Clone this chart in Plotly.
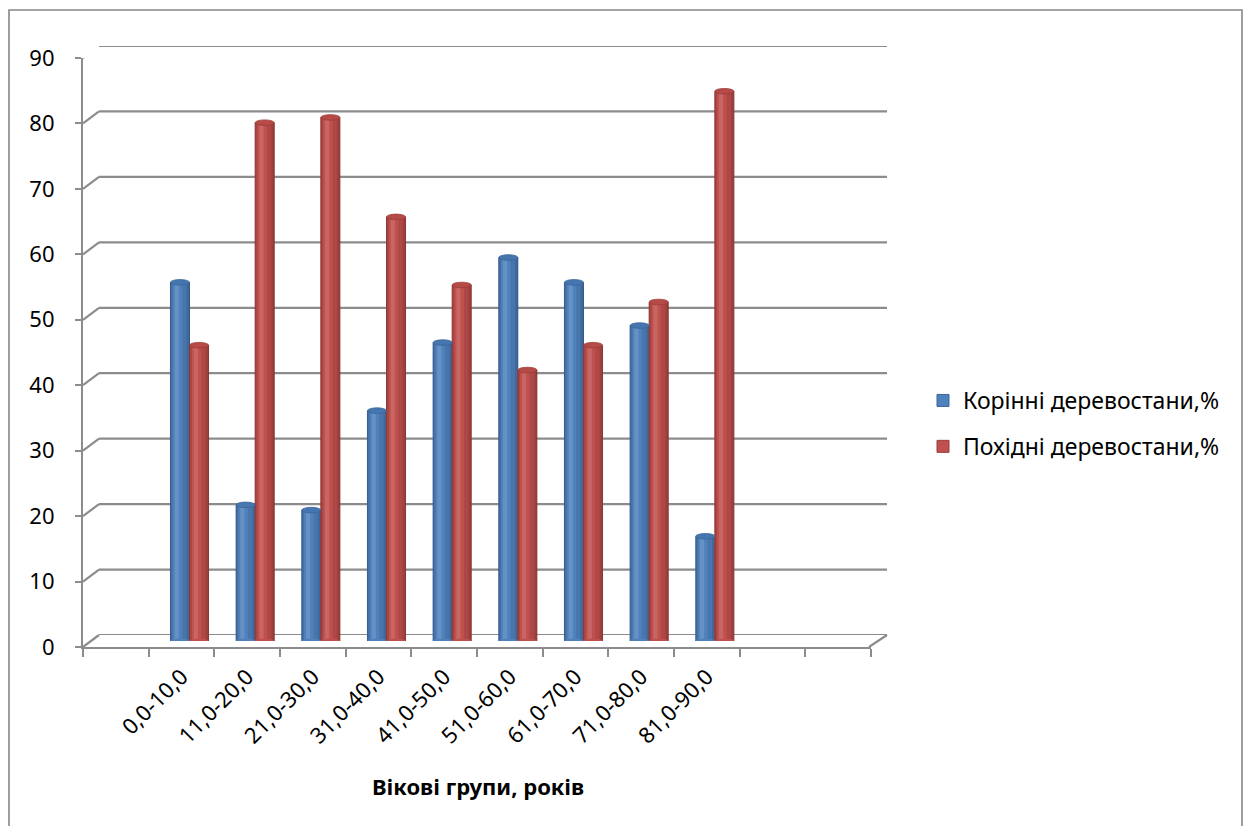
import plotly.graph_objects as go

# ---------------- data ----------------
categories = ["0,0-10,0", "11,0-20,0", "21,0-30,0", "31,0-40,0", "41,0-50,0",
              "51,0-60,0", "61,0-70,0", "71,0-80,0", "81,0-90,0"]
native = [54.8, 20.8, 20.0, 35.2, 45.6, 58.6, 54.8, 48.2, 16.0]      # Корінні деревостани,%
derived = [45.2, 79.2, 80.0, 64.8, 54.4, 41.4, 45.2, 51.8, 84.0]     # Похідні деревостани,%
series_names = ["Корінні деревостани,%", "Похідні деревостани,%"]
y_ticks = list(range(0, 91, 10))
n_slots = 12            # category slots on the axis (first and last ones empty)
first_slot = 1

# ---------------- style ----------------
OFF = 8                                # page body margin of the html page
W, H = 1251 - 2 * OFF, 834 - 2 * OFF   # keep the page free of scrollbars
L, T = 83 - OFF, 46 - OFF              # plot area (page coords) 83..887 x 46..647
PW, PH = 804, 601
R, B = W - L - PW, H - T - PH
DX, DY = 16, 12                        # depth offset (front -> back)
GRID = "#8C8C8C"
COLORS = ["#4F81BD", "#C0504D"]
EDGE = ["#3A6498", "#9A3C3A"]
CAP = ["#4676B0", "#B54A47"]
FONT = "Noto Sans"

positions = [first_slot + i for i in range(len(categories))]
xr = [-0.5, n_slots - 0.5]
bw = 0.29

def px_x(p):   # page pixel -> plot-area fraction
    return (p - OFF - L) / PW

def px_y(p):
    return (T + PH - (p - OFF)) / PH

fig = go.Figure()

for k, (vals, name) in enumerate(zip([native, derived], series_names)):
    off = -bw if k == 0 else 0.0
    fig.add_trace(go.Bar(
        x=positions, y=vals, name=name, offset=off, width=bw,
        marker=dict(color=COLORS[k], line=dict(color=EDGE[k], width=1)),
        legendgroup=name, xaxis="x", yaxis="y"))
    # cylinder shading strips
    for (fo, fw, col) in [(0.0, 0.12, "rgba(0,0,0,0.13)"),
                          (0.22, 0.22, "rgba(255,255,255,0.13)"),
                          (0.62, 0.38, "rgba(0,0,0,0.09)"),
                          (0.85, 0.15, "rgba(0,0,0,0.10)")]:
        fig.add_trace(go.Bar(
            x=positions, y=vals, offset=off + fo * bw, width=fw * bw,
            marker=dict(color=col, line=dict(width=0)), showlegend=False,
            hoverinfo="skip", legendgroup=name, xaxis="x", yaxis="y"))

# dummy traces to create front and back subplots
fig.add_trace(go.Scatter(x=[None], y=[None], xaxis="x2", yaxis="y2",
                         showlegend=False, hoverinfo="skip"))
fig.add_trace(go.Scatter(x=[None], y=[None], xaxis="x3", yaxis="y3",
                         showlegend=False, hoverinfo="skip"))

shapes = []
# back wall gridlines + left-wall connectors
for v in y_ticks:
    shapes.append(dict(type="line", xref="paper", yref="y3", x0=DX / PW, x1=1, y0=v, y1=v,
                       line=dict(color=GRID, width=2.2), layer="below"))
    shapes.append(dict(type="line", xref="paper", yref="y2", ysizemode="pixel", yanchor=v,
                       x0=0, x1=DX / PW, y0=0, y1=DY,
                       line=dict(color=GRID, width=2.2), layer="below"))
# right floor edge
shapes.append(dict(type="line", xref="paper", yref="y2", ysizemode="pixel", yanchor=0,
                   x0=(PW - DX - 2) / PW, x1=1, y0=0, y1=DY,
                   line=dict(color=GRID, width=2.2), layer="below"))
# cylinder caps
for k, vals in enumerate([native, derived]):
    off = -bw if k == 0 else 0.0
    for p, v in zip(positions, vals):
        shapes.append(dict(type="circle", xref="x", yref="y", ysizemode="pixel", yanchor=0,
                           x0=p + off, x1=p + off + bw, y0=-2.5, y1=2.5,
                           fillcolor=COLORS[k], line=dict(width=0), layer="above"))
        shapes.append(dict(type="circle", xref="x", yref="y", ysizemode="pixel", yanchor=v,
                           x0=p + off, x1=p + off + bw, y0=-2.8, y1=2.8,
                           fillcolor=CAP[k], line=dict(color=EDGE[k], width=0.8), layer="above"))
# chart border
shapes.append(dict(type="rect", xref="paper", yref="paper",
                   x0=px_x(9), x1=px_x(1242), y0=px_y(845), y1=px_y(10),
                   line=dict(color="#878787", width=1.6), fillcolor="rgba(0,0,0,0)", layer="below"))

fig.update_layout(
    width=W, height=H, autosize=False,
    margin=dict(l=L, r=R, t=T, b=B, pad=0),
    paper_bgcolor="white", plot_bgcolor="rgba(0,0,0,0)",
    barmode="overlay",
    font=dict(family=FONT, color="black"),
    showlegend=True,
    legend=dict(xref="container", yref="container", x=(923 - OFF) / W, y=1 - (379 - OFF) / H,
                xanchor="left", yanchor="top", font=dict(size=23, family=FONT),
                traceorder="grouped", tracegroupgap=13, bgcolor="rgba(0,0,0,0)"),
    # bars (mid depth)
    xaxis=dict(domain=[(DX / 2) / PW, (PW - DX / 2) / PW], range=xr, anchor="y", visible=False),
    yaxis=dict(domain=[(DY / 2) / PH, (PH - DY / 2) / PH], range=[0, 90], anchor="x", visible=False),
    # front axes
    xaxis2=dict(domain=[0, (PW - DX) / PW], range=xr, anchor="y2",
                showline=True, linecolor=GRID, linewidth=2.2, showgrid=False, zeroline=False,
                tickmode="array", tickvals=positions, ticktext=categories, ticks="",
                tickangle=-45, tickfont=dict(size=22, family=FONT, color="black"),
                ticklabelstandoff=6,
                minor=dict(tickmode="array", tickvals=[i - 0.5 for i in range(n_slots + 1)],
                           ticks="outside", ticklen=8, tickwidth=2, tickcolor=GRID, showgrid=False)),
    yaxis2=dict(domain=[0, (PH - DY) / PH], range=[0, 90], anchor="x2",
                showline=True, linecolor=GRID, linewidth=2.2, showgrid=False, zeroline=False,
                tickmode="array", tickvals=y_ticks, ticks="outside", ticklen=6, tickwidth=2,
                tickcolor=GRID, tickfont=dict(size=22, family=FONT, color="black"),
                ticklabelstandoff=16),
    # back wall
    xaxis3=dict(domain=[DX / PW, 1], range=xr, anchor="y3", visible=False),
    yaxis3=dict(domain=[DY / PH, 1], range=[0, 90], anchor="x3", visible=False),
    shapes=shapes,
    annotations=[dict(text="<b>Вікові групи, років</b>", xref="paper", yref="paper",
                      x=px_x(478), y=px_y(786), xanchor="center", yanchor="middle",
                      showarrow=False, font=dict(size=22, family=FONT, color="black"))],
)

fig.write_html("out.html")
